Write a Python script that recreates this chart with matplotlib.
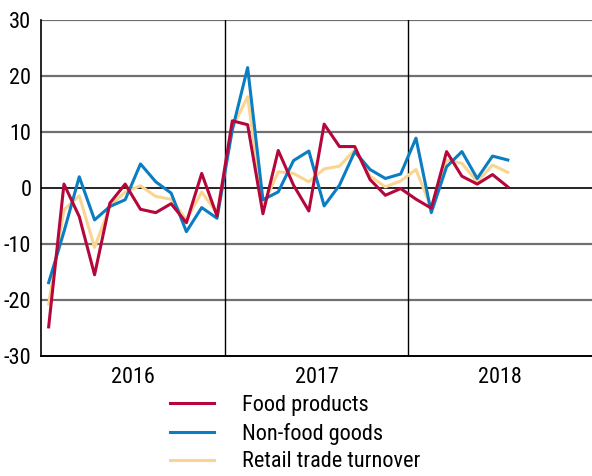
import numpy as np
import matplotlib
matplotlib.use("Agg")
import matplotlib.pyplot as plt
from matplotlib.lines import Line2D
from matplotlib import font_manager

years = ["2016", "2017", "2018"]
food = [-24.8, 0.7, -5.1, -15.5, -2.7, 0.7, -3.8, -4.4, -2.8, -6.2, 2.6, -5.0,
        12.0, 11.3, -4.6, 6.7, 0.5, -4.1, 11.4, 7.4, 7.4, 1.5, -1.3, -0.1,
        -2.0, -3.6, 6.5, 2.1, 0.7, 2.4, 0.2]
nonfood = [-16.9, -7.8, 2.0, -5.7, -3.3, -2.1, 4.3, 1.1, -0.9, -7.8, -3.5, -5.4,
           10.4, 21.5, -2.1, -0.7, 4.9, 6.6, -3.2, 0.5, 6.5, 3.3, 1.7, 2.5,
           8.9, -4.4, 3.8, 6.5, 1.7, 5.7, 5.0]
retail = [-20.7, -3.9, -1.4, -10.6, -3.3, -0.7, 0.4, -1.5, -2.0, -5.7, -0.7, -4.5,
          10.7, 16.3, -3.2, 2.9, 2.6, 1.1, 3.4, 3.9, 6.8, 2.1, 0.2, 1.25,
          3.3, -3.6, 5.0, 4.4, 1.1, 4.1, 2.8]
labels = ["Food products", "Non-food goods", "Retail trade turnover"]
colors = ["#B5073B", "#0A7DC3", "#FBD590"]
yticks = [-30, -20, -10, 0, 10, 20, 30]

# pick a condensed sans font if available
cond_stretch = ("condensed", "semi-condensed", "extra-condensed", "ultra-condensed")
chosen = None
pref = ["Liberation Sans Narrow", "Roboto Condensed", "Open Sans Condensed",
        "DejaVu Sans", "Noto Sans", "Roboto", "Open Sans", "Lato", "Inter"]
entries = font_manager.fontManager.ttflist
for p in pref:
    for f in entries:
        if f.name == p and f.style == "normal" and (
                "Narrow" in f.name or "Condensed" in f.name or str(f.stretch) in cond_stretch):
            if f.weight in (400, "normal", "regular", "book"):
                chosen = f
                break
    if chosen:
        break
if chosen is None:
    for f in entries:
        if ("Narrow" in f.name or "Condensed" in f.name or str(f.stretch) in cond_stretch) \
                and f.style == "normal":
            chosen = f
            break

if chosen is not None:
    fp = font_manager.FontProperties(fname=chosen.fname)
    base = 16
else:
    fp = font_manager.FontProperties(family="DejaVu Sans")
    base = 13

fig = plt.figure(figsize=(5.92, 4.76), dpi=100)
ax = fig.add_axes([41/592, 1-356/476, 1-41/592, (356-20)/476])

x = np.arange(len(food)) + 0.5
ax.set_xlim(0, 12*len(years))
ax.set_ylim(-30, 30)

for v in yticks:
    if v == 0:
        ax.axhline(v, color="black", lw=1.2, zorder=1)
    elif v != -30:
        ax.axhline(v, color="#707070", lw=1.6, zorder=1)
for k in range(1, len(years)):
    ax.axvline(12*k, color="black", lw=1.0, zorder=1)

ax.plot(x, retail, color=colors[2], lw=2.2, zorder=3)
ax.plot(x, nonfood, color=colors[1], lw=2.2, zorder=4)
ax.plot(x, food, color=colors[0], lw=2.2, zorder=5)

for s in ["top", "right"]:
    ax.spines[s].set_visible(False)
ax.spines["left"].set_linewidth(1.2)
ax.spines["bottom"].set_linewidth(1.4)

fpt = fp.copy()
fpt.set_size(base)
ax.set_yticks(yticks)
ax.set_yticklabels([str(v) for v in yticks], fontproperties=fpt)
ax.tick_params(axis="y", length=0, pad=7)
ax.set_xticks([12*k + 6 for k in range(len(years))])
ax.set_xticklabels(years, fontproperties=fpt)
ax.tick_params(axis="x", length=0, pad=8)

handles = [Line2D([], [], color=c, lw=2.2) for c in colors]
fig.legend(handles, labels, loc="upper left", bbox_to_anchor=(170/592, 1-395/476),
           frameon=False, prop=fpt, handlelength=2.0, handletextpad=1.25,
           labelspacing=0.3, borderpad=0, borderaxespad=0)

fig.savefig("out.png", dpi=100)
